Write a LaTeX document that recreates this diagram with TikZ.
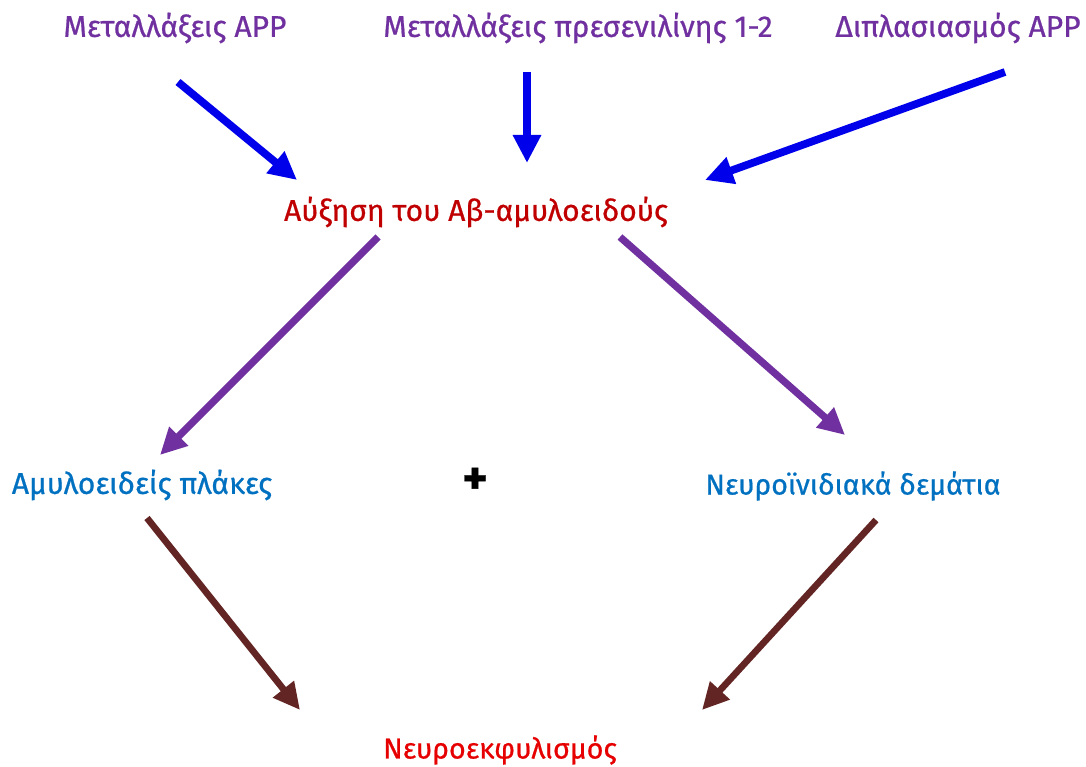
\documentclass[tikz,border=0pt]{standalone}
\usepackage{fontspec}
\setmainfont{Fira Sans}[FakeBold=0.7]
\usetikzlibrary{arrows.meta}
\definecolor{violetta}{RGB}{112,48,160}
\definecolor{kokkino}{RGB}{192,0,0}
\definecolor{erythro}{RGB}{230,0,0}
\definecolor{galazio}{RGB}{0,112,192}
\definecolor{mple}{RGB}{0,0,235}
\definecolor{kafe}{RGB}{99,37,35}
\begin{document}
\begin{tikzpicture}[x=0.75pt,y=-0.75pt,
		txt/.style={font=\fontsize{22.5}{26}\selectfont},
		blu/.style={draw=mple,line width=5.8pt,-{Triangle[length=21pt,width=20pt]}},
		mov/.style={draw=violetta,line width=5.4pt,-{Triangle[length=20pt,width=19pt]}},
		kaf/.style={draw=kafe,line width=5pt,-{Triangle[length=20pt,width=19pt]}}]

		\useasboundingbox[fill=white] (0,0) rectangle (1086,767);

		\node[txt,text=violetta] (mapp) at (175,28) {Μεταλλάξεις APP};
		\node[txt,text=violetta] (mpres) at (578,28) {Μεταλλάξεις πρεσενιλίνης 1-2};
		\node[txt,text=violetta] (dapp) at (958,28) {Διπλασιασμός APP};
		\node[txt,text=kokkino] (abeta) at (476,212) {Αύξηση του Αβ-αμυλοειδούς};
		\node[txt,text=galazio] (plakes) at (142,485) {Αμυλοειδείς πλάκες};
		\node[font=\fontsize{36}{40}\selectfont\bfseries] (syn) at (475,481) {+};
		\node[txt,text=galazio,font=\fontsize{21.5}{26}\selectfont] (demat) at (853,486) {Νευροϊνιδιακά δεμάτια};
		\node[txt,text=erythro,font=\fontsize{21.5}{26}\selectfont] (nekf) at (500,750) {Νευροεκφυλισμός};

		\coordinate (b1s) at (178,82);
		\coordinate (b1e) at (297,180);
		\coordinate (b2s) at (527,72);
		\coordinate (b2e) at (527,163);
		\coordinate (b3s) at (1005,72);
		\coordinate (b3e) at (705,180);
		\coordinate (m1s) at (378,237);
		\coordinate (m1e) at (160,455);
		\coordinate (m2s) at (620,237);
		\coordinate (m2e) at (845,435);
		\coordinate (k1s) at (147,518);
		\coordinate (k1e) at (300,710);
		\coordinate (k2s) at (876,520);
		\coordinate (k2e) at (702,710);

		\foreach \a in {1,2,3}
			\draw[blu] (b\a s) -- (b\a e);
		\foreach \a in {1,2}
			\draw[mov] (m\a s) -- (m\a e);
		\foreach \a in {1,2}
			\draw[kaf] (k\a s) -- (k\a e);

\end{tikzpicture}
\end{document}
